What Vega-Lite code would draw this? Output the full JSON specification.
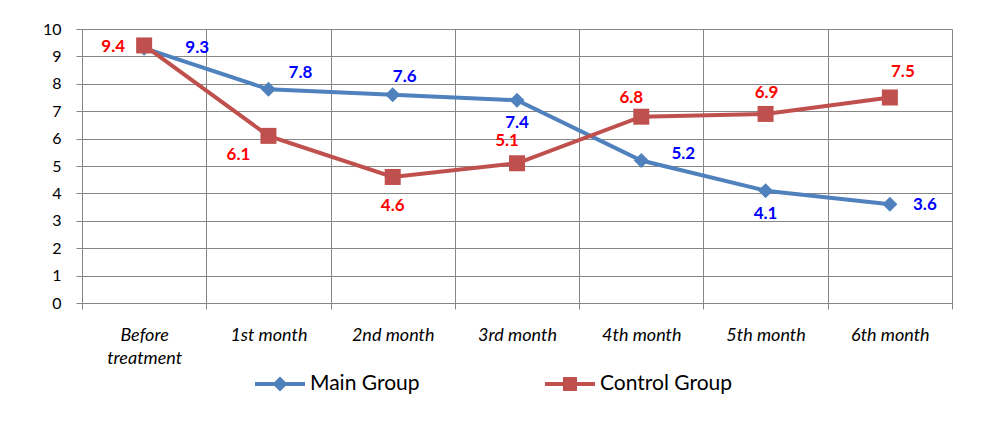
{
  "$schema": "https://vega.github.io/schema/vega-lite/v6.json",
  "width": 870,
  "height": 274,
  "autosize": "none",
  "padding": {"left": 82, "top": 29, "right": 50, "bottom": 137},
  "background": "white",
  "config": {"view": {"stroke": null}, "font": "Lato"},
  "data": {"values": [
    {"month": "Before treatment", "series": "Main Group", "value": 9.3},
    {"month": "1st month", "series": "Main Group", "value": 7.8},
    {"month": "2nd month", "series": "Main Group", "value": 7.6},
    {"month": "3rd month", "series": "Main Group", "value": 7.4},
    {"month": "4th month", "series": "Main Group", "value": 5.2},
    {"month": "5th month", "series": "Main Group", "value": 4.1},
    {"month": "6th month", "series": "Main Group", "value": 3.6},
    {"month": "Before treatment", "series": "Control Group", "value": 9.4},
    {"month": "1st month", "series": "Control Group", "value": 6.1},
    {"month": "2nd month", "series": "Control Group", "value": 4.6},
    {"month": "3rd month", "series": "Control Group", "value": 5.1},
    {"month": "4th month", "series": "Control Group", "value": 6.8},
    {"month": "5th month", "series": "Control Group", "value": 6.9},
    {"month": "6th month", "series": "Control Group", "value": 7.5}
  ]},
  "encoding": {
    "x": {
      "field": "month", "type": "nominal",
      "scale": {"type": "band", "paddingInner": 0, "paddingOuter": 0,
        "domain": ["Before treatment", "1st month", "2nd month", "3rd month", "4th month", "5th month", "6th month"]},
      "axis": {
        "title": null, "tickBand": "extent", "grid": true, "gridColor": "#868686", "gridWidth": 1,
        "tickSize": 6, "tickColor": "#868686", "domainColor": "#868686",
        "labelFont": "Lato", "labelFontStyle": "italic", "labelFontSize": 18, "labelColor": "black",
        "labelAngle": 0, "labelPadding": 17, "labelLineHeight": 23,
        "labelExpr": "datum.label == 'Before treatment' ? ['Before', 'treatment'] : datum.label"
      }
    },
    "y": {
      "field": "value", "type": "quantitative",
      "scale": {"domain": [0, 10], "nice": false},
      "axis": {
        "title": null, "values": [0, 1, 2, 3, 4, 5, 6, 7, 8, 9, 10], "grid": true,
        "gridColor": "#868686", "gridWidth": 1, "tickSize": 6, "tickColor": "#868686",
        "domainColor": "#868686", "labelFont": "Lato", "labelFontSize": 16,
        "labelColor": "black", "labelPadding": 15
      }
    }
  },
  "layer": [
    {
      "transform": [{"filter": "datum.series == 'Main Group'"}],
      "mark": {"type": "line", "strokeWidth": 4},
      "encoding": {
        "color": {
          "field": "series", "type": "nominal",
          "scale": {"domain": ["Main Group", "Control Group"], "range": ["#4F81BD", "#C0504D"]},
          "legend": {
            "title": null, "orient": "none", "legendX": 173, "legendY": 330,
            "direction": "horizontal", "padding": 0,
            "symbolSize": 2500, "symbolStrokeWidth": 0, "columnPadding": 125,
            "labelFont": "Lato", "labelFontSize": 21, "labelColor": "black", "labelOffset": 5,
            "labelLimit": 300,
            "encode": {
              "symbols": {
                "update": {
                  "shape": {"signal": "datum.value == 'Main Group' ? 'M-1,-0.08L1,-0.08L1,0.08L-1,0.08Z M0,-0.3L0.3,0L0,0.3L-0.3,0Z' : 'M-1,-0.08L1,-0.08L1,0.08L-1,0.08Z M-0.28,-0.28L0.28,-0.28L0.28,0.28L-0.28,0.28Z'"},
                  "fill": {"signal": "datum.value == 'Main Group' ? '#4F81BD' : '#C0504D'"},
                  "stroke": {"value": "transparent"},
                  "opacity": {"value": 1}
                }
              }
            }
          }
        }
      }
    },
    {
      "transform": [{"filter": "datum.series == 'Main Group'"}],
      "mark": {"type": "point", "shape": "diamond", "filled": true, "size": 225, "color": "#4F81BD", "opacity": 1}
    },
    {
      "transform": [{"filter": "datum.series == 'Control Group'"}],
      "mark": {"type": "line", "strokeWidth": 4},
      "encoding": {"color": {"field": "series", "type": "nominal"}}
    },
    {
      "transform": [{"filter": "datum.series == 'Control Group'"}],
      "mark": {"type": "point", "shape": "square", "filled": true, "size": 256, "color": "#C0504D", "opacity": 1}
    },
    {"transform": [{"filter": "datum.series == 'Main Group' && datum.month == 'Before treatment'"}],
     "mark": {"type": "text", "dx": 53, "dy": 0, "color": "#0000FF", "fontWeight": "bold", "fontSize": 17, "font": "Lato"},
     "encoding": {"text": {"field": "value", "format": ".1f"}}},
    {"transform": [{"filter": "datum.series == 'Main Group' && datum.month == '1st month'"}],
     "mark": {"type": "text", "dx": 32, "dy": -16, "color": "#0000FF", "fontWeight": "bold", "fontSize": 17, "font": "Lato"},
     "encoding": {"text": {"field": "value", "format": ".1f"}}},
    {"transform": [{"filter": "datum.series == 'Main Group' && datum.month == '2nd month'"}],
     "mark": {"type": "text", "dx": 12, "dy": -18, "color": "#0000FF", "fontWeight": "bold", "fontSize": 17, "font": "Lato"},
     "encoding": {"text": {"field": "value", "format": ".1f"}}},
    {"transform": [{"filter": "datum.series == 'Main Group' && datum.month == '3rd month'"}],
     "mark": {"type": "text", "dx": 0, "dy": 23, "color": "#0000FF", "fontWeight": "bold", "fontSize": 17, "font": "Lato"},
     "encoding": {"text": {"field": "value", "format": ".1f"}}},
    {"transform": [{"filter": "datum.series == 'Main Group' && datum.month == '4th month'"}],
     "mark": {"type": "text", "dx": 42, "dy": -7, "color": "#0000FF", "fontWeight": "bold", "fontSize": 17, "font": "Lato"},
     "encoding": {"text": {"field": "value", "format": ".1f"}}},
    {"transform": [{"filter": "datum.series == 'Main Group' && datum.month == '5th month'"}],
     "mark": {"type": "text", "dx": 0, "dy": 23, "color": "#0000FF", "fontWeight": "bold", "fontSize": 17, "font": "Lato"},
     "encoding": {"text": {"field": "value", "format": ".1f"}}},
    {"transform": [{"filter": "datum.series == 'Main Group' && datum.month == '6th month'"}],
     "mark": {"type": "text", "dx": 35, "dy": 1, "color": "#0000FF", "fontWeight": "bold", "fontSize": 17, "font": "Lato"},
     "encoding": {"text": {"field": "value", "format": ".1f"}}},
    {"transform": [{"filter": "datum.series == 'Control Group' && datum.month == 'Before treatment'"}],
     "mark": {"type": "text", "dx": -31, "dy": 2, "color": "#FF0000", "fontWeight": "bold", "fontSize": 17, "font": "Lato"},
     "encoding": {"text": {"field": "value", "format": ".1f"}}},
    {"transform": [{"filter": "datum.series == 'Control Group' && datum.month == '1st month'"}],
     "mark": {"type": "text", "dx": -30, "dy": 19, "color": "#FF0000", "fontWeight": "bold", "fontSize": 17, "font": "Lato"},
     "encoding": {"text": {"field": "value", "format": ".1f"}}},
    {"transform": [{"filter": "datum.series == 'Control Group' && datum.month == '2nd month'"}],
     "mark": {"type": "text", "dx": 0, "dy": 29, "color": "#FF0000", "fontWeight": "bold", "fontSize": 17, "font": "Lato"},
     "encoding": {"text": {"field": "value", "format": ".1f"}}},
    {"transform": [{"filter": "datum.series == 'Control Group' && datum.month == '3rd month'"}],
     "mark": {"type": "text", "dx": -10, "dy": -22, "color": "#FF0000", "fontWeight": "bold", "fontSize": 17, "font": "Lato"},
     "encoding": {"text": {"field": "value", "format": ".1f"}}},
    {"transform": [{"filter": "datum.series == 'Control Group' && datum.month == '4th month'"}],
     "mark": {"type": "text", "dx": -10, "dy": -19, "color": "#FF0000", "fontWeight": "bold", "fontSize": 17, "font": "Lato"},
     "encoding": {"text": {"field": "value", "format": ".1f"}}},
    {"transform": [{"filter": "datum.series == 'Control Group' && datum.month == '5th month'"}],
     "mark": {"type": "text", "dx": 1, "dy": -21, "color": "#FF0000", "fontWeight": "bold", "fontSize": 17, "font": "Lato"},
     "encoding": {"text": {"field": "value", "format": ".1f"}}},
    {"transform": [{"filter": "datum.series == 'Control Group' && datum.month == '6th month'"}],
     "mark": {"type": "text", "dx": 13, "dy": -26, "color": "#FF0000", "fontWeight": "bold", "fontSize": 17, "font": "Lato"},
     "encoding": {"text": {"field": "value", "format": ".1f"}}}
  ]
}
